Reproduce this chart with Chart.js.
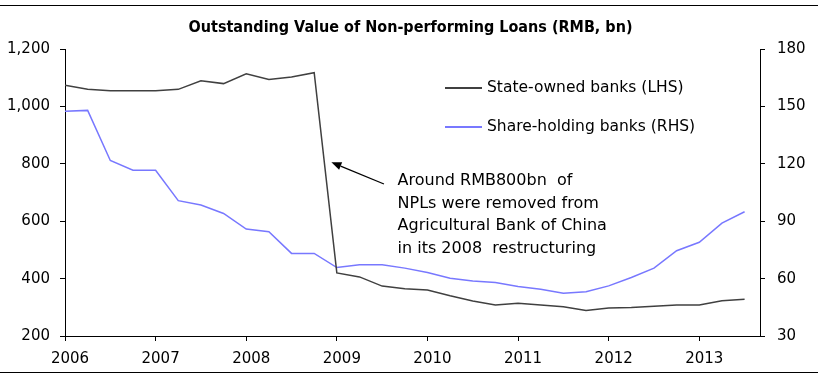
<!DOCTYPE html>
<html><head><meta charset="utf-8">
<script src="https://cdn.jsdelivr.net/npm/chart.js@4/dist/chart.umd.min.js"></script>
<style>html,body{margin:0;padding:0;background:#fff}#wrap{width:821px;height:380px}</style>
</head><body><div id="wrap"><canvas id="c" width="821" height="380"></canvas></div>
<script>
const quarters = ['2006Q1','2006Q2','2006Q3','2006Q4','2007Q1','2007Q2','2007Q3','2007Q4',
  '2008Q1','2008Q2','2008Q3','2008Q4','2009Q1','2009Q2','2009Q3','2009Q4',
  '2010Q1','2010Q2','2010Q3','2010Q4','2011Q1','2011Q2','2011Q3','2011Q4',
  '2012Q1','2012Q2','2012Q3','2012Q4','2013Q1','2013Q2','2013Q3'];
const stateOwned = [1074,1060,1055,1055,1055,1060,1090,1080,1114,1094,1103,1118,
  420,406,374,365,360,340,322,308,314,308,302,289,298,299,304,308,308,323,328];
const shareHolding = [147.5,148,121.8,116.7,116.7,100.8,98.5,94.1,85.9,84.5,73.2,73.2,
  65.8,67.2,67.2,65.5,63.2,60.2,58.8,58,55.9,54.5,52.4,53.1,56.2,60.6,65.5,74.6,79,89,95];
const yearTicks = [2006,2007,2008,2009,2010,2011,2012,2013];
const leftTicks = [200,400,600,800,1000,1200];
const rightTicks = [30,60,90,120,150,180];
const seriesLabels = ['State-owned banks (LHS)','Share-holding banks (RHS)'];
const titleText = 'Outstanding Value of Non-performing Loans (RMB, bn)';
const noteLines = ['Around RMB800bn  of','NPLs were removed from','Agricultural Bank of China','in its 2008  restructuring'];
const arrowHead = {x: 2008.94, y: 806};
const arrowTail = {x: 2009.52, y: 730};
const noteAnchor = {x: 2009.67, y: 740};

const qx = q => parseInt(q.slice(0,4)) + (parseInt(q.slice(5)) - 1) * 0.25;
const FONT = 'DejaVu Sans';

const framePlugin = {
  id: 'frame',
  afterDraw(chart) {
    const ctx = chart.ctx;
    ctx.save();
    ctx.strokeStyle = '#000';
    ctx.lineWidth = 1;
    ctx.beginPath();
    ctx.moveTo(0, 5.5); ctx.lineTo(818, 5.5);
    ctx.moveTo(0, 372.5); ctx.lineTo(818, 372.5);
    ctx.stroke();
    ctx.restore();
  }
};

const legendPlugin = {
  id: 'customLegend',
  afterDraw(chart) {
    const ctx = chart.ctx;
    ctx.save();
    chart.data.datasets.forEach((ds, i) => {
      const y = 88 + i * 39;
      ctx.strokeStyle = ds.borderColor;
      ctx.lineWidth = 2;
      ctx.beginPath(); ctx.moveTo(445, y); ctx.lineTo(482, y); ctx.stroke();
      ctx.fillStyle = '#000';
      ctx.font = '15.5px "' + FONT + '"';
      ctx.textBaseline = 'middle';
      ctx.textAlign = 'left';
      ctx.fillText(ds.label, 487, y);
    });
    ctx.restore();
  }
};

const notePlugin = {
  id: 'note',
  afterDraw(chart) {
    const ctx = chart.ctx, xs = chart.scales.x, ys = chart.scales.y;
    const hx = xs.getPixelForValue(arrowHead.x), hy = ys.getPixelForValue(arrowHead.y);
    const tx = xs.getPixelForValue(arrowTail.x), ty = ys.getPixelForValue(arrowTail.y);
    ctx.save();
    ctx.strokeStyle = '#000'; ctx.fillStyle = '#000'; ctx.lineWidth = 1.3;
    const ang = Math.atan2(hy - ty, hx - tx);
    const L = 10, W = 4;
    const bx = hx - L * Math.cos(ang), by = hy - L * Math.sin(ang);
    ctx.beginPath(); ctx.moveTo(tx, ty); ctx.lineTo(bx, by); ctx.stroke();
    ctx.beginPath();
    ctx.moveTo(hx, hy);
    ctx.lineTo(bx + W * Math.sin(ang), by - W * Math.cos(ang));
    ctx.lineTo(bx - W * Math.sin(ang), by + W * Math.cos(ang));
    ctx.closePath(); ctx.fill();
    ctx.font = '16px "' + FONT + '"';
    ctx.textBaseline = 'middle'; ctx.textAlign = 'left';
    const nx = xs.getPixelForValue(noteAnchor.x), ny = ys.getPixelForValue(noteAnchor.y);
    noteLines.forEach((t, i) => ctx.fillText(t, nx, ny + i * 22.5));
    ctx.restore();
  }
};

const axisCommon = {
  grid: {drawOnChartArea: false, drawTicks: true, tickLength: 5, color: '#000', lineWidth: 1},
  border: {color: '#000', width: 1}
};

new Chart(document.getElementById('c'), {
  type: 'line',
  data: {
    datasets: [
      {label: seriesLabels[0], data: quarters.map((q, i) => ({x: qx(q), y: stateOwned[i]})),
       borderColor: '#404040', borderWidth: 1.5, pointRadius: 0, yAxisID: 'y', tension: 0},
      {label: seriesLabels[1], data: quarters.map((q, i) => ({x: qx(q), y: shareHolding[i]})),
       borderColor: '#7878ff', borderWidth: 1.5, pointRadius: 0, yAxisID: 'y1', tension: 0}
    ]
  },
  options: {
    responsive: false, devicePixelRatio: 1, animation: false,
    layout: {padding: {left: 0, right: 0, top: 0, bottom: 8}},
    plugins: {
      legend: {display: false}, tooltip: {enabled: false},
      title: {display: true, text: titleText, color: '#000',
        font: {family: 'DejaVu Sans Condensed', weight: 'bold', size: 16, lineHeight: 1.2},
        padding: {top: 18, bottom: 12}}
    },
    scales: {
      x: Object.assign({}, axisCommon, {
        type: 'linear', position: 'bottom', min: 2006, max: 2013.67,
        afterBuildTicks: s => { s.ticks = yearTicks.map(v => ({value: v})); },
        afterFit: s => { s.height = 36; },
        ticks: {font: {family: FONT, size: 15}, color: '#000', padding: 9, labelOffset: 5,
          maxRotation: 0, autoSkip: false, callback: v => String(v)}
      }),
      y: Object.assign({}, axisCommon, {
        position: 'left', min: 200, max: 1200,
        afterBuildTicks: s => { s.ticks = leftTicks.map(v => ({value: v})); },
        afterFit: s => { s.width = 65; },
        ticks: {font: {family: FONT, size: 15}, color: '#000', padding: 10,
          callback: v => v.toLocaleString('en-US')}
      }),
      y1: Object.assign({}, axisCommon, {
        position: 'right', min: 30, max: 180,
        afterBuildTicks: s => { s.ticks = rightTicks.map(v => ({value: v})); },
        afterFit: s => { s.width = 61; },
        ticks: {font: {family: FONT, size: 15}, color: '#000', padding: 12}
      })
    }
  },
  plugins: [framePlugin, legendPlugin, notePlugin]
});
</script>
</body></html>
